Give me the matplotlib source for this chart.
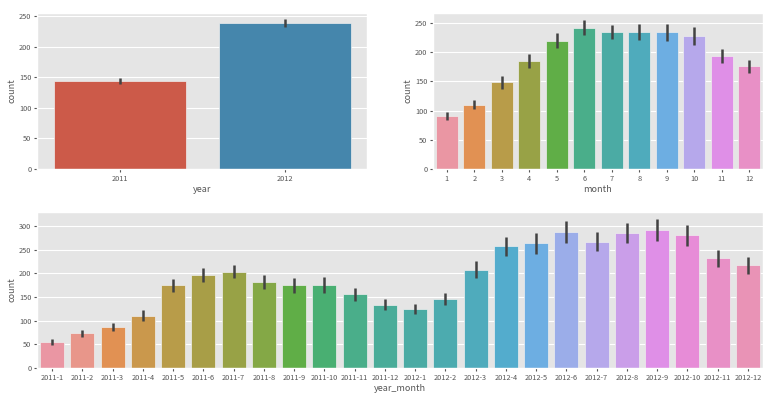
import matplotlib
matplotlib.use("Agg")
import matplotlib.pyplot as plt
import seaborn as sns
import numpy as np

plt.style.use("ggplot")
plt.rcParams['font.family'] = ['Noto Sans CJK KR', 'DejaVu Sans']

years = ["2011", "2012"]
year_mean = [144.2, 238.6]
year_err = [4.5, 6.5]

months = [str(m) for m in range(1, 13)]
month_mean = [90.4, 110.0, 148.2, 184.2, 219.5, 242.0, 235.3, 234.1, 233.8, 227.7, 193.7, 175.6]
month_err = [7, 8, 11, 12, 13, 13, 12, 14, 15, 15, 12, 11]

year_months = [f"2011-{m}" for m in range(1, 13)] + [f"2012-{m}" for m in range(1, 13)]
ym_mean = [54.6, 73.6, 86.8, 111.0, 174.8, 196.9, 203.6, 182.7, 174.6, 174.8, 155.5, 134.2,
           124.4, 145.6, 208.3, 257.5, 264.1, 287.2, 267.0, 285.6, 292.6, 280.5, 231.9, 217.1]
ym_err = [6, 7, 9, 11, 14, 15, 14, 15, 15, 17, 13, 12,
          11, 13, 18, 20, 22, 23, 20, 21, 23, 22, 18, 18]

fig = plt.figure(figsize=(7.73, 3.98), dpi=100)
ax1 = fig.add_axes([37/773, 1-169/398, 330/773, 156/398])
ax2 = fig.add_axes([433/773, 1-169/398, 330/773, 156/398])
ax3 = fig.add_axes([37/773, 1-368/398, 726/773, 156/398])

def draw(ax, cats, vals, errs, colors, xlabel):
    x = np.arange(len(cats))
    ax.bar(x, vals, width=0.8, color=colors, edgecolor="#EEEEEE", linewidth=0.5)
    for xi, v, e in zip(x, vals, errs):
        ax.plot([xi, xi], [v - e, v + e], color=".26", linewidth=1.8, solid_capstyle="butt")
    ax.set_xticks(x)
    ax.set_xticklabels(cats)
    ax.set_xlim(-0.5, len(cats) - 0.5)
    ax.set_xlabel(xlabel, fontsize=6.5, color="#555555", labelpad=2)
    ax.set_ylabel("count", fontsize=6.5, color="#555555", labelpad=2)
    ax.tick_params(axis="both", labelsize=5.3, colors="#555555", length=2, pad=2)
    ax.tick_params(axis="both", labelcolor="#555555")
    ax.grid(axis="x", visible=False)
    ax.grid(axis="y", color="white", linewidth=0.8)

c_year = [sns.desaturate(c, 0.75) for c in ["#E24A33", "#348ABD"]]
c_month = [sns.desaturate(c, 0.75) for c in sns.husl_palette(12, l=.7)]
c_ym = [sns.desaturate(c, 0.75) for c in sns.husl_palette(24, l=.7)]

draw(ax1, years, year_mean, year_err, c_year, "year")
draw(ax2, months, month_mean, month_err, c_month, "month")
draw(ax3, year_months, ym_mean, ym_err, c_ym, "year_month")
ax1.set_ylim(0, 255)
ax2.set_ylim(0, 267)
ax3.set_ylim(0, 330)
ax1.set_yticks([0, 50, 100, 150, 200, 250])
ax2.set_yticks([0, 50, 100, 150, 200, 250])
ax3.set_yticks([0, 50, 100, 150, 200, 250, 300])

fig.savefig("out.png", dpi=100, facecolor="white")
